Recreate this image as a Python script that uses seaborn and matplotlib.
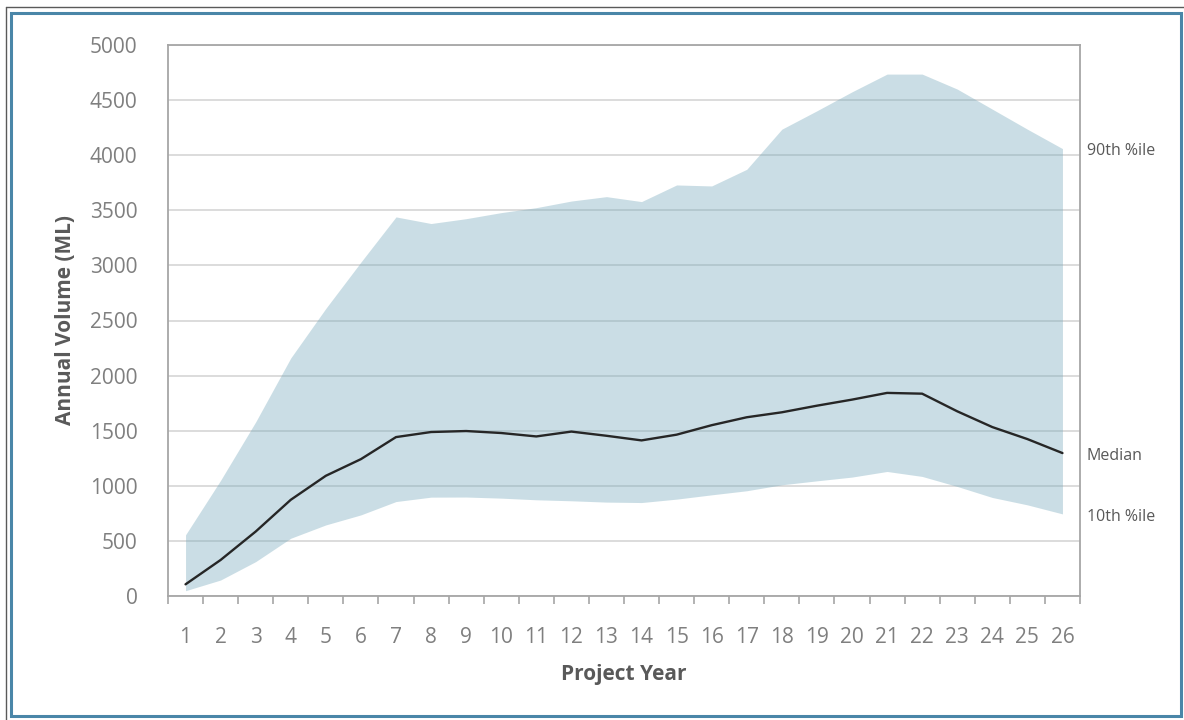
import matplotlib
matplotlib.use("Agg")
import matplotlib.pyplot as plt
import matplotlib.patches as mpatches
import numpy as np
import pandas as pd
import seaborn as sns

# Annual volume percentiles by project year (ML)
years = list(range(1, 27))
p90 = [555, 1050, 1580, 2160, 2610, 3030, 3440, 3380, 3424, 3479, 3524, 3584, 3624,
       3579, 3730, 3721, 3872, 4236, 4403, 4575, 4736, 4736, 4600, 4418, 4236, 4060]
median = [106, 327, 585, 873, 1091, 1242, 1442, 1488, 1497, 1479, 1448, 1492, 1454,
          1412, 1464, 1550, 1622, 1667, 1727, 1782, 1843, 1836, 1676, 1533, 1424, 1297]
p10 = [48, 145, 312, 524, 645, 736, 857, 897, 898, 888, 873, 864, 852,
       848, 879, 918, 955, 1009, 1045, 1079, 1130, 1085, 994, 894, 827, 745]
y_ticks = list(range(0, 5001, 500))
side_labels = ["90th %ile", "Median", "10th %ile"]

df = pd.DataFrame({"year": years, "p90": p90, "median": median, "p10": p10})

sns.set_theme(style="white")
plt.rcParams["font.family"] = ["Open Sans", "DejaVu Sans"]

fig = plt.figure(figsize=(11.84, 7.2), dpi=100)
ax = fig.add_axes([168 / 1184, 1 - 596 / 720, (1080 - 168) / 1184, (596 - 45) / 720])

# frame around the whole figure: thin dark outer edge on top/left, blue border inside
fig.add_artist(plt.Line2D([6 / 1184, 6 / 1184], [0, 713 / 720], transform=fig.transFigure,
                          color="#5a5a5a", linewidth=1.0))
fig.add_artist(plt.Line2D([6 / 1184, 1], [713 / 720, 713 / 720], transform=fig.transFigure,
                          color="#5a5a5a", linewidth=1.0))
fig.patches.append(mpatches.Rectangle((11 / 1184, 4 / 720), 1170 / 1184, 703 / 720,
                                      transform=fig.transFigure, fill=False,
                                      edgecolor="#4a86a8", linewidth=2.2))

ax.set_axisbelow(True)
ax.yaxis.grid(True, color="#d9d9d9", linewidth=1.3)
ax.xaxis.grid(False)

ax.fill_between(df["year"], df["p10"], df["p90"], color="#75a8bb", alpha=0.38,
                linewidth=0, zorder=2)
sns.lineplot(data=df, x="year", y="median", ax=ax, color="#262626", linewidth=1.7,
             zorder=3)

ax.set_xlim(0.5, 26.5)
ax.set_ylim(0, 5000)
ax.set_yticks(y_ticks)
ax.set_xticks(years)
ax.set_xticks(np.arange(0.5, 27, 1.0), minor=True)
ax.tick_params(axis="x", which="major", length=0, pad=22, labelsize=15, labelcolor="#7f7f7f")
ax.tick_params(axis="x", which="minor", length=6, width=1.2, color="#a6a6a6", direction="out",
               bottom=True)
ax.tick_params(axis="y", length=0, pad=22, labelsize=15, labelcolor="#7f7f7f")

for side in ["left", "right", "top", "bottom"]:
    ax.spines[side].set_visible(True)
    ax.spines[side].set_color("#a6a6a6")
    ax.spines[side].set_linewidth(1.3)

ax.set_xlabel("Project Year", fontsize=15, fontweight="bold", color="#595959", labelpad=12)
ax.set_ylabel("Annual Volume (ML)", fontsize=15, fontweight="bold", color="#595959", labelpad=10)

for label, val in zip(side_labels, [p90[-1], median[-1], p10[-1]]):
    ax.annotate(label, xy=(1, val), xycoords=("axes fraction", "data"),
                xytext=(5, -2), textcoords="offset points", va="center", ha="left",
                fontsize=11.5, color="#595959")

fig.savefig("out.png", dpi=100, facecolor="white")
